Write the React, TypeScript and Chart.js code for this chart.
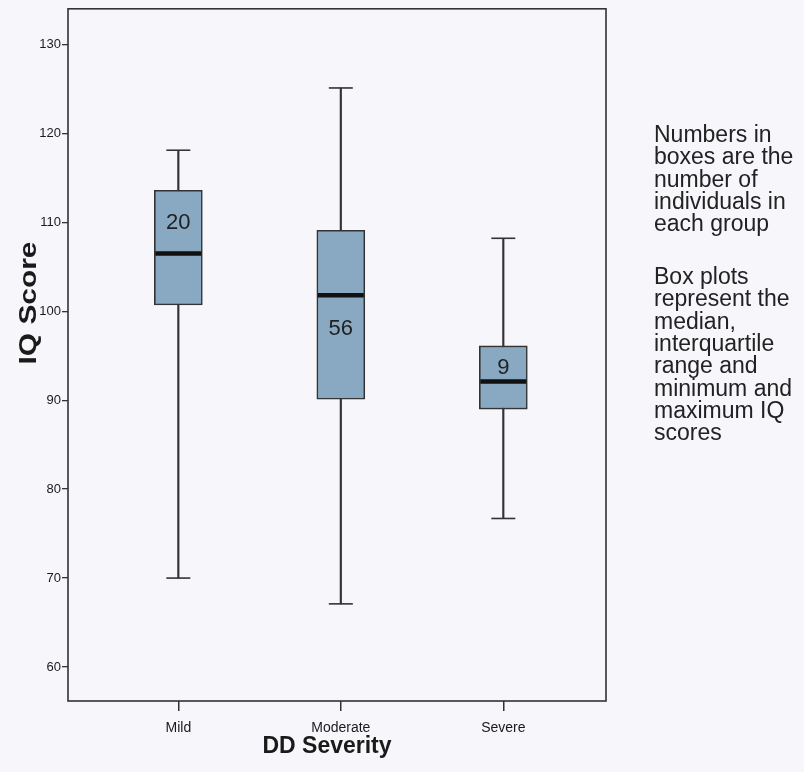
import React, { useEffect, useRef } from "react";
import { Chart, registerables } from "chart.js";

Chart.register(...registerables);

// ---- data ----
const categories = ["Mild", "Moderate", "Severe"];
const minValues = [70, 67.1, 76.7];
const q1Values = [100.7, 90.1, 89.0];
const medianValues = [106.5, 101.8, 92.1];
const q3Values = [113.6, 109.1, 96.1];
const maxValues = [118.1, 125.1, 108.2];
const groupCounts = [20, 56, 9];
const countLabelValues = [110.1, 98.2, 93.8];
const yTickValues = [60, 70, 80, 90, 100, 110, 120, 130];

const xTitle = "DD Severity";
const yTitle = "IQ Score";
const noteParagraphs = [
  ["Numbers in", "boxes are the", "number of", "individuals in", "each group"],
  ["Box plots", "represent the", "median,", "interquartile", "range and", "minimum and", "maximum IQ", "scores"],
];

const FONT = "'Liberation Sans', Arial, Helvetica, sans-serif";
const DARK = "#333333";
const BOX_FILL = "#88a9c1";
const BG = "#f7f6fa";

const extrasPlugin = {
  id: "boxExtras",
  afterDatasetsDraw(chart: any) {
    const { ctx, chartArea, scales } = chart;
    const x = scales.x;
    const y = scales.y;
    ctx.save();
    categories.forEach((_, i) => {
      const cx = x.getPixelForValue(i);
      // whisker caps
      ctx.strokeStyle = DARK;
      ctx.lineWidth = 1.6;
      [minValues[i], maxValues[i]].forEach((v) => {
        const py = y.getPixelForValue(v);
        ctx.beginPath();
        ctx.moveTo(cx - 12, py);
        ctx.lineTo(cx + 12, py);
        ctx.stroke();
      });
      // median
      const my = y.getPixelForValue(medianValues[i]);
      ctx.strokeStyle = "#111111";
      ctx.lineWidth = 4.5;
      ctx.beginPath();
      ctx.moveTo(cx - 23, my);
      ctx.lineTo(cx + 23, my);
      ctx.stroke();
      // counts
      ctx.fillStyle = "#222222";
      ctx.font = `22px ${FONT}`;
      ctx.textAlign = "center";
      ctx.textBaseline = "alphabetic";
      ctx.fillText(String(groupCounts[i]), cx, y.getPixelForValue(countLabelValues[i]) + 8);
    });
    // frame
    ctx.strokeStyle = DARK;
    ctx.lineWidth = 1.6;
    ctx.strokeRect(
      chartArea.left,
      chartArea.top,
      chartArea.right - chartArea.left,
      chartArea.bottom - chartArea.top
    );
    // axis titles
    ctx.fillStyle = "#1a1a1a";
    ctx.textAlign = "center";
    ctx.textBaseline = "alphabetic";
    ctx.font = `bold 23px ${FONT}`;
    ctx.fillText(xTitle, 327, 753);
    ctx.save();
    ctx.translate(30, 303);
    ctx.rotate(-Math.PI / 2);
    ctx.scale(1.3, 1);
    ctx.textBaseline = "middle";
    ctx.font = `bold 23px ${FONT}`;
    ctx.fillText(yTitle, 0, 0);
    ctx.restore();
    ctx.restore();
  },
};

export default function App() {
  const canvasRef = useRef<HTMLCanvasElement | null>(null);

  useEffect(() => {
    const canvas = canvasRef.current;
    if (!canvas) return;
    const chart = new Chart(canvas, {
      type: "bar",
      data: {
        datasets: [
          {
            label: "IQR",
            data: categories.map((_, i) => ({ x: i, y: [q1Values[i], q3Values[i]] })),
            backgroundColor: BOX_FILL,
            borderColor: DARK,
            borderWidth: 1.6,
            borderSkipped: false,
            barThickness: 48,
            grouped: false,
            order: 0,
          } as any,
          {
            label: "Range",
            data: categories.map((_, i) => ({ x: i, y: [minValues[i], maxValues[i]] })),
            backgroundColor: DARK,
            borderWidth: 0,
            barThickness: 1.5,
            grouped: false,
            order: 1,
          } as any,
        ],
      },
      options: {
        animation: false,
        responsive: false,
        maintainAspectRatio: false,
        layout: { padding: { left: 0, top: 8, right: 198, bottom: 0 } },
        plugins: {
          legend: { display: false },
          tooltip: { enabled: false },
          title: { display: false },
        },
        scales: {
          x: {
            type: "linear",
            min: -0.679,
            max: 2.632,
            offset: false,
            afterBuildTicks: (scale: any) => {
              scale.ticks = categories.map((_, i) => ({ value: i }));
            },
            afterFit: (scale: any) => {
              scale.height = 71;
            },
            ticks: {
              autoSkip: false,
              maxRotation: 0,
              padding: 9,
              color: "#1a1a1a",
              font: { family: FONT, size: 14 },
              callback: (v: any) => categories[Number(v)] ?? "",
            },
            grid: {
              display: true,
              drawOnChartArea: false,
              drawTicks: true,
              tickLength: 10,
              color: DARK,
              lineWidth: 1.5,
              offset: false,
            },
            border: { display: false },
          },
          y: {
            type: "linear",
            min: 56.18,
            max: 134,
            beginAtZero: false,
            afterBuildTicks: (scale: any) => {
              scale.ticks = yTickValues.map((v) => ({ value: v }));
            },
            afterFit: (scale: any) => {
              scale.width = 68;
            },
            ticks: {
              padding: 1,
              color: "#1a1a1a",
              font: { family: FONT, size: 13 },
            },
            grid: {
              display: true,
              drawOnChartArea: false,
              drawTicks: true,
              tickLength: 6,
              color: DARK,
              lineWidth: 1.3,
            },
            border: { display: false },
          },
        },
      } as any,
      plugins: [extrasPlugin],
    });
    return () => chart.destroy();
  }, []);

  return (
    <div
      style={{
        position: "fixed",
        left: 0,
        top: 0,
        width: 804,
        height: 772,
        background: BG,
        overflow: "hidden",
      }}
    >
      <canvas ref={canvasRef} width={804} height={772} style={{ width: 804, height: 772, display: "block" }} />
      <div
        style={{
          position: "absolute",
          left: 654,
          top: 123,
          fontFamily: FONT,
          fontSize: 23,
          lineHeight: "22.3px",
          color: "#222222",
          whiteSpace: "pre",
        }}
      >
        {noteParagraphs.map((lines, p) => (
          <div key={p} style={{ marginTop: p === 0 ? 0 : 30.7 }}>
            {lines.map((l, j) => (
              <div key={j}>{l}</div>
            ))}
          </div>
        ))}
      </div>
    </div>
  );
}
